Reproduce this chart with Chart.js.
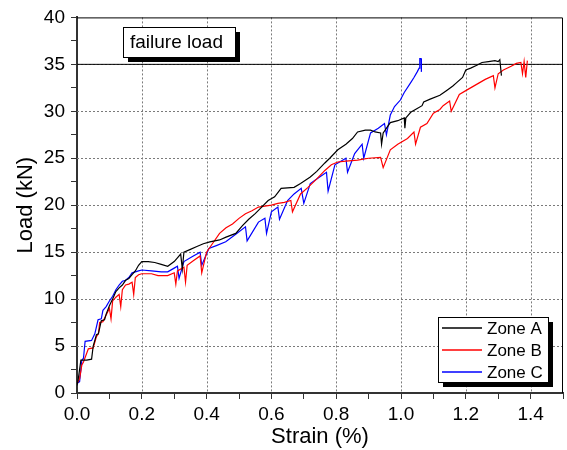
<!DOCTYPE html>
<html>
<head>
<meta charset="utf-8">
<script src="https://cdn.jsdelivr.net/npm/chart.js@4.4.1/dist/chart.umd.min.js"></script>
<style>
  body { margin: 0; background: #fff; }
  canvas { display: block; }
</style>
</head>
<body>
<canvas id="chart" width="567" height="450"></canvas>
<script>
// strain (%) / load (kN) pairs
const zoneA = [
  [0, 0.8], [0.004, 1.5], [0.012, 3.5], [0.03, 3.5], [0.045, 3.6], [0.05, 5.0], [0.06, 6.2],
  [0.066, 6.3], [0.075, 7.7], [0.085, 7.8], [0.09, 8.4], [0.1, 9.3], [0.11, 10.0], [0.12, 10.8],
  [0.13, 11.2], [0.14, 11.5], [0.15, 12.0], [0.16, 12.2], [0.17, 12.6], [0.18, 13.0], [0.19, 13.6],
  [0.2, 14.0], [0.22, 14.0], [0.24, 13.9], [0.26, 13.7], [0.28, 13.5], [0.3, 14.0], [0.31, 14.4],
  [0.32, 14.8], [0.325, 13.2], [0.33, 15.0], [0.35, 15.3], [0.37, 15.6], [0.39, 15.9], [0.41, 16.1],
  [0.44, 16.3], [0.46, 16.6], [0.49, 17.0], [0.51, 17.8], [0.53, 18.5], [0.55, 19.1], [0.57, 19.8],
  [0.59, 20.5], [0.61, 20.9], [0.63, 21.8], [0.67, 21.9], [0.69, 22.3], [0.72, 23.0], [0.74, 23.6],
  [0.765, 24.5], [0.78, 25.0], [0.805, 25.9], [0.83, 26.5], [0.85, 27.1], [0.866, 27.8], [0.89, 28.0],
  [0.906, 28.0], [0.92, 27.8], [0.937, 27.7], [0.94, 26.5], [0.945, 27.7], [0.967, 28.8], [0.99, 29.0],
  [1.01, 29.3], [1.012, 28.2], [1.015, 29.3], [1.03, 29.9], [1.05, 30.3], [1.065, 30.6], [1.07, 31.0],
  [1.09, 31.3], [1.12, 31.7], [1.14, 32.2], [1.16, 32.7], [1.17, 33.0], [1.19, 33.6], [1.2, 34.4],
  [1.215, 34.6], [1.234, 34.9], [1.25, 35.2], [1.27, 35.3], [1.29, 35.4], [1.3, 35.3], [1.305, 35.5],
  [1.31, 33.8]
];
const zoneB = [
  [0, 1.0], [0.008, 1.5], [0.015, 3.0], [0.02, 3.3], [0.035, 4.7], [0.05, 4.8], [0.06, 6.0],
  [0.066, 6.3], [0.07, 7.5], [0.08, 7.6], [0.09, 8.3], [0.1, 9.0], [0.105, 7.9], [0.11, 9.8],
  [0.12, 10.2], [0.13, 10.5], [0.135, 9.2], [0.14, 11.0], [0.15, 11.5], [0.16, 11.6], [0.17, 11.8],
  [0.175, 10.5], [0.18, 12.3], [0.19, 12.6], [0.2, 12.7], [0.23, 12.7], [0.25, 12.5], [0.28, 12.5],
  [0.3, 12.8], [0.305, 11.6], [0.31, 13.0], [0.33, 13.4], [0.335, 11.8], [0.34, 13.6], [0.36, 14.1],
  [0.38, 14.6], [0.385, 12.8], [0.4, 15.0], [0.42, 16.0], [0.44, 17.0], [0.46, 17.6], [0.48, 18.0],
  [0.5, 18.6], [0.52, 19.1], [0.54, 19.4], [0.56, 19.8], [0.58, 19.9], [0.6, 20.0], [0.62, 20.2],
  [0.64, 20.3], [0.66, 20.5], [0.665, 19.3], [0.69, 21.2], [0.713, 21.9], [0.74, 22.8], [0.765, 23.7],
  [0.785, 24.3], [0.805, 24.6], [0.83, 24.7], [0.866, 24.8], [0.9, 25.0], [0.937, 25.1], [0.945, 24.0],
  [0.967, 25.9], [0.99, 26.5], [1.02, 27.1], [1.04, 27.8], [1.045, 26.5], [1.06, 28.3], [1.08, 28.7],
  [1.1, 29.8], [1.12, 30.2], [1.13, 30.6], [1.15, 31.1], [1.155, 30.0], [1.18, 31.8], [1.2, 32.2],
  [1.22, 32.6], [1.24, 33.0], [1.26, 33.4], [1.285, 33.8], [1.29, 32.5], [1.3, 34.0], [1.316, 34.4],
  [1.34, 34.8], [1.356, 35.1], [1.37, 35.2], [1.375, 34.0], [1.38, 35.3], [1.385, 33.6], [1.39, 35.4]
];
const zoneC = [
  [0, 1.0], [0.008, 1.2], [0.015, 3.5], [0.02, 3.7], [0.025, 5.5], [0.045, 5.6], [0.055, 6.3],
  [0.065, 7.8], [0.075, 7.9], [0.08, 8.8], [0.09, 9.2], [0.1, 9.8], [0.11, 10.3], [0.12, 11.0],
  [0.13, 11.5], [0.14, 11.9], [0.15, 12.0], [0.16, 12.3], [0.17, 12.8], [0.18, 12.9], [0.19, 13.0],
  [0.2, 13.1], [0.23, 13.0], [0.26, 12.9], [0.28, 12.9], [0.3, 13.3], [0.31, 13.5], [0.315, 12.2],
  [0.33, 14.0], [0.355, 14.5], [0.38, 15.0], [0.385, 13.6], [0.407, 15.4], [0.43, 15.7], [0.459, 16.1],
  [0.49, 16.9], [0.52, 17.7], [0.525, 16.2], [0.56, 18.2], [0.58, 18.6], [0.585, 17.0], [0.6, 19.3],
  [0.62, 19.8], [0.625, 18.5], [0.65, 20.5], [0.67, 21.2], [0.692, 21.8], [0.7, 20.2], [0.72, 22.3],
  [0.74, 22.8], [0.77, 23.5], [0.775, 21.5], [0.796, 24.3], [0.83, 25.0], [0.835, 23.5], [0.857, 25.5],
  [0.88, 26.5], [0.885, 25.0], [0.906, 27.7], [0.93, 28.2], [0.949, 28.7], [0.955, 27.5], [0.967, 29.6],
  [0.98, 30.5], [0.998, 31.2], [1.01, 32.0], [1.029, 33.0], [1.04, 33.6], [1.05, 34.2], [1.056, 34.6],
  [1.058, 35.6], [1.062, 35.6], [1.063, 34.2]
];
const seriesNames = ['Zone A', 'Zone B', 'Zone C'];
const seriesColors = ['#000000', '#ff0000', '#0000ff'];
const failureLoad = 35;
const strainRange = [0, 1.5];
const loadRange = [0, 40];

const FONT = '"Liberation Sans", Arial, sans-serif';
const toPoints = (pairs) => pairs.map(p => ({ x: p[0], y: p[1] }));

// boxes with a drop shadow, like the original plot
function shadowBox(ctx, x, y, w, h) {
  ctx.fillStyle = '#000';
  ctx.fillRect(x + 5, y + 5, w, h);
  ctx.fillStyle = '#fff';
  ctx.fillRect(x, y, w, h);
  ctx.strokeStyle = '#000';
  ctx.lineWidth = 1;
  ctx.strokeRect(x + 0.5, y + 0.5, w, h);
}

const decor = {
  id: 'decor',
  beforeDatasetsDraw(chart) {
    // dotted grid at the labelled ticks
    const { ctx, chartArea: a, scales } = chart;
    ctx.save();
    ctx.strokeStyle = '#7a7a7a';
    ctx.lineWidth = 1;
    ctx.setLineDash([2, 2]);
    scales.x.ticks.forEach((t, i) => {
      if (i % 2 !== 0) return;
      const x = Math.round(scales.x.getPixelForValue(t.value)) + 0.5;
      if (x <= a.left + 2 || x >= a.right - 2) return;
      ctx.beginPath();
      ctx.moveTo(x, a.top);
      ctx.lineTo(x, a.bottom);
      ctx.stroke();
    });
    scales.y.ticks.forEach((t, i) => {
      if (i % 2 !== 0) return;
      const y = Math.round(scales.y.getPixelForValue(t.value)) + 0.5;
      if (y <= a.top + 2 || y >= a.bottom - 2) return;
      ctx.beginPath();
      ctx.moveTo(a.left, y);
      ctx.lineTo(a.right, y);
      ctx.stroke();
    });
    ctx.restore();
  },
  afterDatasetsDraw(chart) {
    const { ctx, chartArea: a } = chart;
    ctx.save();
    // top and right frame
    ctx.strokeStyle = '#000';
    ctx.lineWidth = 1;
    ctx.beginPath();
    ctx.moveTo(a.left, a.top + 0.5);
    ctx.lineTo(a.right - 0.5, a.top + 0.5);
    ctx.lineTo(a.right - 0.5, a.bottom);
    ctx.stroke();

    // failure load label
    shadowBox(ctx, 123, 27, 112, 30);
    ctx.fillStyle = '#000';
    ctx.font = '19px ' + FONT;
    ctx.textBaseline = 'middle';
    ctx.fillText('failure load', 130, 43);

    // legend
    shadowBox(ctx, 438, 317, 110, 65);
    ctx.font = '17px ' + FONT;
    seriesNames.forEach((name, i) => {
      const y = 328 + i * 22;
      ctx.strokeStyle = seriesColors[i];
      ctx.globalAlpha = 0.75;
      ctx.lineWidth = 2;
      ctx.beginPath();
      ctx.moveTo(442, y);
      ctx.lineTo(482, y);
      ctx.stroke();
      ctx.globalAlpha = 1;
      ctx.fillStyle = '#000';
      ctx.fillText(name, 487, y + 1);
    });
    ctx.restore();
  }
};

const datasets = [zoneA, zoneB, zoneC].map((pairs, i) => ({
  label: seriesNames[i],
  data: toPoints(pairs),
  borderColor: seriesColors[i],
  borderWidth: 1.2,
  pointRadius: 0,
  showLine: true,
  fill: false
}));
datasets.push({
  label: 'failure load',
  data: [{ x: strainRange[0], y: failureLoad }, { x: strainRange[1], y: failureLoad }],
  borderColor: '#000',
  borderWidth: 1,
  pointRadius: 0,
  showLine: true
});

new Chart(document.getElementById('chart'), {
  type: 'scatter',
  data: { datasets },
  options: {
    responsive: false,
    animation: false,
    devicePixelRatio: 1,
    layout: { padding: { top: 17, right: 1, left: 0, bottom: 0 } },
    plugins: { legend: { display: false }, tooltip: { enabled: false } },
    scales: {
      x: {
        type: 'linear',
        min: strainRange[0],
        max: strainRange[1],
        afterFit: (s) => { s.height = 57; },
        ticks: {
          stepSize: 0.1,
          autoSkip: false,
          maxRotation: 0,
          padding: 4,
          color: '#000',
          font: { family: FONT, size: 19 },
          callback: (v, i) => (i % 2 === 0 ? Number(v).toFixed(1) : '')
        },
        grid: { drawOnChartArea: false, tickColor: '#333', tickLength: 6 },
        border: { color: '#333', width: 2 },
        title: {
          display: true, text: 'Strain (%)', color: '#000',
          font: { family: FONT, size: 22 }, padding: { top: 0, bottom: 0 }
        }
      },
      y: {
        type: 'linear',
        min: loadRange[0],
        max: loadRange[1],
        afterFit: (s) => { s.width = 77; },
        ticks: {
          stepSize: 2.5,
          autoSkip: false,
          padding: 6,
          color: '#000',
          font: { family: FONT, size: 19 },
          callback: (v, i) => (i % 2 === 0 ? String(Math.round(v)) : '')
        },
        grid: { drawOnChartArea: false, tickColor: '#333', tickLength: 6 },
        border: { color: '#333', width: 2 },
        title: {
          display: true, text: 'Load (kN)', color: '#000',
          font: { family: FONT, size: 22 }, padding: { top: 13, bottom: 0 }
        }
      }
    }
  },
  plugins: [decor]
});
</script>
</body>
</html>
